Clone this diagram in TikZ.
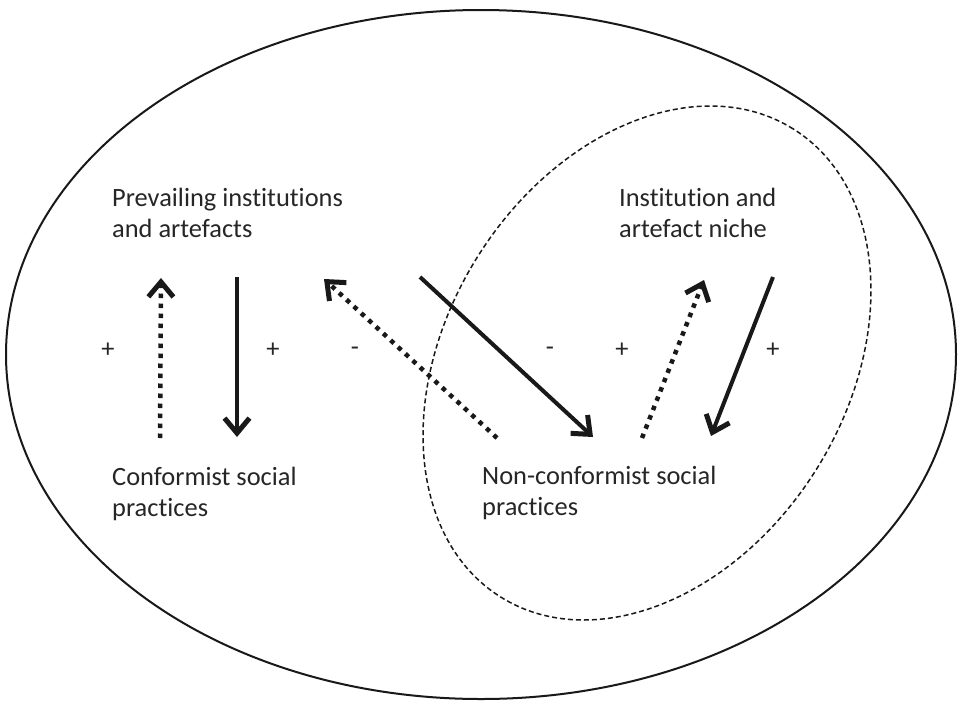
\documentclass[tikz,border=0pt]{standalone}
\usepackage{fontspec}
\setmainfont{Carlito}[Ligatures=NoCommon]
\usetikzlibrary{arrows.meta}
\begin{document}
\begin{tikzpicture}[x=1pt,y=-1pt,
  lbl/.style={font=\fontsize{26.4}{31}\selectfont, align=left, anchor=base west, inner sep=0pt, text=black!85},
  sgn/.style={font=\fontsize{26.4}{31}\selectfont, inner sep=0pt, text=black!85},
  barb/.style={-{Straight Barb[length=15pt,width=25pt,line width=5pt 0]}},
  solidarrow/.style={line width=4pt, draw=black!90, barb},
  dotarrow/.style={line width=4.5pt, draw=black!90, dash pattern=on 4.5pt off 5.5pt, barb},
  outer/.style={line width=2pt, draw=black!90},
  niche/.style={line width=1.5pt, draw=black!90, dash pattern=on 5pt off 3pt}
]
\useasboundingbox (0,0) rectangle (959,702);
\fill[white] (0,0) rectangle (959,702);

% outer ellipse
\draw[outer] (481,354.5) ellipse (475pt and 344.5pt);
% niche ellipse
\draw[niche, rotate around={58:(647,363)}] (647,363) ellipse (276pt and 200pt);

% texts (anchor = baseline of last line)
\node[lbl] (prev) at (112,237) {Prevailing institutions\\and artefacts};
\node[lbl] (nicheText) at (619,237) {Institution and\\artefact niche};
\node[lbl] (conf) at (112,516) {Conformist social\\practices};
\node[lbl] (nonconf) at (482,515) {Non-conformist social\\practices};

% signs
\node[sgn] (s1) at (108,350) {+};
\node[sgn] (s2) at (273,350) {+};
\node[sgn] (s3) at (355,351) {-};
\node[sgn] (s4) at (550,351) {-};
\node[sgn] (s5) at (622,350) {+};
\node[sgn] (s6) at (773,350) {+};

% arrow end points
\coordinate (a1s) at (160,438); \coordinate (a1e) at (161,278);
\coordinate (a2s) at (237,277); \coordinate (a2e) at (237,437);
\coordinate (a3s) at (497,438); \coordinate (a3e) at (324,279);
\coordinate (a4s) at (420,277); \coordinate (a4e) at (593,437);
\coordinate (a5s) at (642,438); \coordinate (a5e) at (704,280);
\coordinate (a6s) at (773,277); \coordinate (a6e) at (711,436);

\draw[dotarrow] (a1s) -- (a1e);
\draw[solidarrow] (a2s) -- (a2e);
\draw[dotarrow] (a3s) -- (a3e);
\draw[solidarrow] (a4s) -- (a4e);
\draw[dotarrow] (a5s) -- (a5e);
\draw[solidarrow] (a6s) -- (a6e);
\end{tikzpicture}
\end{document}
